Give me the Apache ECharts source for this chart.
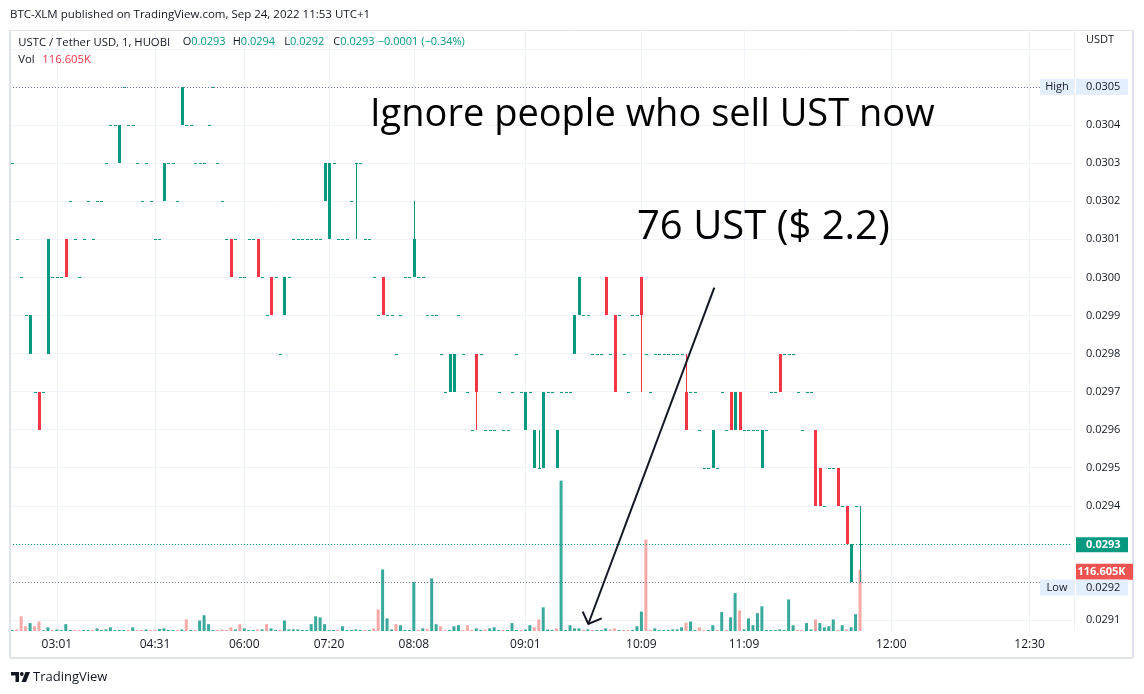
<!DOCTYPE html>
<html><head><meta charset="utf-8">
<script src="https://cdn.jsdelivr.net/npm/echarts@6/dist/echarts.min.js"></script>
<style>html,body{margin:0;padding:0;background:#fff}#c{width:1144px;height:694px}</style>
</head><body><div id="c"></div>
<script>
// ---- data ----
// each candle: flat price, [open, close] or [open, close, low, high]
const candles = [
0.0303,0.0301,0.0300,0.0299,[0.0298,0.0299],0.0297,[0.0297,0.0296],0.0297,[0.0298,0.0301],0.0300,
0.0300,0.0300,[0.0301,0.0300],0.0302,0.0301,0.0300,0.0301,0.0302,0.0301,0.0302,
0.0302,0.0303,0.0304,0.0304,[0.0303,0.0304],0.0305,0.0304,0.0304,0.0303,0.0302,
0.0303,0.0302,0.0301,0.0301,[0.0302,0.0303],0.0303,0.0303,0.0302,[0.0304,0.0305],0.0304,
0.0304,0.0303,0.0303,0.0303,0.0304,0.0305,0.0303,0.0302,0.0301,[0.0301,0.0300],
0.0301,0.0300,0.0300,0.0301,0.0301,[0.0301,0.0300],0.0300,0.0299,[0.0300,0.0299],0.0300,
0.0298,[0.0299,0.0300],0.0300,0.0301,0.0301,0.0301,0.0301,0.0301,0.0301,0.0301,
[0.0302,0.0303],[0.0301,0.0303],0.0303,0.0301,0.0301,0.0301,0.0302,[0.0303,0.0303,0.0301,0.0303],0.0303,0.0301,
0.0301,0.0300,0.0299,[0.0300,0.0299],0.0299,0.0299,0.0298,0.0299,0.0300,0.0300,
[0.0300,0.0301,0.0300,0.0302],0.0300,0.0300,0.0299,0.0299,0.0299,0.0298,0.0297,[0.0297,0.0298],[0.0297,0.0298],
0.0299,0.0298,0.0297,0.0296,[0.0298,0.0297,0.0296,0.0298],0.0298,0.0296,0.0296,0.0296,0.0297,
0.0296,0.0296,0.0297,0.0298,0.0297,[0.0296,0.0297],0.0297,[0.0295,0.0296],[0.0295,0.0295,0.0295,0.0296],[0.0295,0.0297],
0.0297,0.0297,[0.0295,0.0296],0.0297,0.0297,0.0297,[0.0298,0.0299],[0.0299,0.0300],0.0299,0.0299,
0.0298,0.0298,0.0298,[0.0300,0.0299],0.0298,[0.0299,0.0297],0.0299,0.0298,0.0297,0.0299,
0.0299,[0.0300,0.0299,0.0297,0.0300],0.0298,0.0297,0.0298,0.0298,0.0298,0.0298,0.0298,0.0298,
0.0298,[0.0297,0.0296,0.0296,0.0298],0.0297,0.0297,0.0296,0.0295,0.0295,[0.0295,0.0296],0.0295,0.0297,
0.0296,[0.0297,0.0296],[0.0296,0.0297],[0.0297,0.0296],0.0296,0.0296,0.0296,0.0296,[0.0295,0.0296],0.0296,
0.0297,0.0297,[0.0298,0.0297],0.0298,0.0298,0.0298,0.0297,0.0296,0.0297,0.0297,
[0.0296,0.0294],[0.0295,0.0294],0.0294,0.0295,0.0295,[0.0295,0.0294],0.0294,[0.0294,0.0293],[0.0292,0.0293],0.0294,
[0.0293,0.0293,0.0292,0.0294]
];
// volume in thousands
const volumes = [
2,3,28,9,15,9,18,1.3,7,2,
3,2,13,2,2,2,2,2,2,5,
2,3,7,2,2,2,2,7,2,2,
3,2,2,4,5,2,2,2,3,22,
2,2,20,30,13,2,2,3,2,7,
3,13,5,2,2,3,3,13,5,2,
2,20,3,3,3,2,2,13,28,26,
13,2,2,2,9,2,2,3,2,2,
2,5,41,117,24,3,13,11,2,2,
93,2,5,4,100,13,9,2,2,9,
11,2,11,2,5,2,3,5,7,2,
2,2,15,2,2,3,11,7,22,45,
3,2,5,286,2,11,5,5,2,3,
2,2,2,5,3,5,2,2,2,2,
9,37,174,2,5,2,2,2,3,3,
7,16,18,2,7,2,2,11,2,36,
2,26,72,39,3,24,11,34,47,2,
2,2,3,2,60,11,2,2,15,3,
22,15,7,9,22,2,11,3,7,32,
116.605
];
const tickIndex = [10, 32, 52, 71, 90, 115, 141, 164, 197, 228];
const tickText  = ['03:01','04:31','06:00','07:20','08:08','09:01','10:09','11:09','12:00','12:30'];
const slotCount = 238;   // candles + empty future slots
const priceMin = 0.0291, priceMax = 0.0306, priceStep = 0.0001;
const volMax = 1143;

// ---- build ----
const F = "'Open Sans', 'Noto Sans', sans-serif";
const UP = '#089981', DOWN = '#f23645', VUP = '#3aa99c', VDOWN = '#f7a9a7', INK = '#131722';
const ohlc = candles.map(c => typeof c === 'number' ? [c, c, c, c]
  : c.length === 2 ? [c[0], c[1], Math.min(c[0], c[1]), Math.max(c[0], c[1])] : c);
const closes = ohlc.map(d => d[1]);
const categories = Array.from({length: slotCount}, (_, i) => 'b' + i);
const labelAt = {};
tickIndex.forEach((k, j) => { labelAt[k] = tickText[j]; });
const candleData = ohlc.map((d, i) => [i, d[0], d[1], d[2], d[3]]);
const volData = volumes.map((v, i) => ({value: v, itemStyle: {color: (i === 0 || closes[i] >= closes[i - 1]) ? VUP : VDOWN}}));
const high = Math.max(...ohlc.map(d => d[3]));
const low = Math.min(...ohlc.map(d => d[2]));
const lastBar = ohlc[ohlc.length - 1];
const last = closes[closes.length - 1];
const lastVol = volumes[volumes.length - 1];
const hideLabels = [Math.round(high * 1e4), Math.round(last * 1e4), Math.round(low * 1e4), Math.round(priceMax * 1e4)];

const L = 10, R = 72;
const band = (1144 - L - R) / slotCount;
const isTick = (i) => labelAt[i] !== undefined;

function renderCandle(params, api) {
  const i = api.value(0), o = api.value(1), c = api.value(2), l = api.value(3), h = api.value(4);
  const pO = api.coord([i, o]), pC = api.coord([i, c]), pL = api.coord([i, l]), pH = api.coord([i, h]);
  const col = c < o ? DOWN : UP;
  const x0 = Math.round(pO[0]) - 1;
  const yt = Math.round(Math.min(pO[1], pC[1]));
  const yb = Math.round(Math.max(pO[1], pC[1]));
  const children = [];
  const wt = Math.round(pH[1]), wb = Math.round(pL[1]);
  if (wb - wt > 0) children.push({type: 'rect', shape: {x: x0 + 1, y: wt, width: 1, height: wb - wt}, style: {fill: col}});
  children.push({type: 'rect', shape: {x: x0, y: yt, width: 3, height: Math.max(yb - yt, 1)}, style: {fill: col}});
  return {type: 'group', children: children};
}

const chart = echarts.init(document.getElementById('c'), null, {renderer: 'canvas'});
chart.setOption({
  animation: false,
  backgroundColor: '#ffffff',
  grid: [
    {left: L, right: R, top: 49, bottom: 74, outerBoundsMode: 'none'},
    {left: L, right: R, top: 30, bottom: 63, outerBoundsMode: 'none'},
    {left: L + band / 2, right: R - band / 2, top: 30, bottom: 63, outerBoundsMode: 'none'}
  ],
  xAxis: [
    {type: 'category', gridIndex: 0, data: categories, boundaryGap: true,
     axisLine: {show: false}, axisTick: {show: false}, axisLabel: {show: false}, splitLine: {show: false}},
    {type: 'category', gridIndex: 1, data: categories, boundaryGap: true,
     axisLine: {show: false}, axisTick: {show: false}, splitLine: {show: false},
     axisLabel: {show: true, interval: (i) => isTick(i), formatter: (v, i) => labelAt[i] || '',
                 color: INK, fontSize: 12, fontFamily: F, margin: 8}},
    {type: 'category', gridIndex: 2, data: categories, boundaryGap: true,
     axisLine: {show: false}, axisTick: {show: false}, axisLabel: {show: false},
     splitLine: {show: true, interval: (i) => isTick(i), lineStyle: {color: '#f0f3fa', width: 1}}}
  ],
  yAxis: [
    {type: 'value', gridIndex: 0, position: 'right', min: priceMin, max: priceMax, interval: priceStep,
     axisLine: {show: false}, axisTick: {show: false},
     splitLine: {show: true, lineStyle: {color: '#f0f3fa', width: 1}},
     axisLabel: {color: INK, fontSize: 11, fontFamily: F, margin: 14, align: 'left',
                 formatter: (v) => hideLabels.indexOf(Math.round(v * 1e4)) >= 0 ? '' : v.toFixed(4)}},
    {type: 'value', gridIndex: 1, min: 0, max: volMax, show: false, splitLine: {show: false}},
    {type: 'value', gridIndex: 2, min: 0, max: 1, show: false, splitLine: {show: false}}
  ],
  series: [
    {type: 'bar', name: 'Vol', xAxisIndex: 1, yAxisIndex: 1, data: volData, barWidth: 3,
     z: 2, silent: true},
    {type: 'custom', name: 'USTC', xAxisIndex: 0, yAxisIndex: 0, data: candleData,
     encode: {x: 0, y: [1, 2, 3, 4]}, renderItem: renderCandle, z: 3, silent: true, clip: false}
  ]
});

const yH = chart.convertToPixel({yAxisIndex: 0}, high);
const yLo = chart.convertToPixel({yAxisIndex: 0}, low);
const yC = chart.convertToPixel({yAxisIndex: 0}, last);
const yV = chart.convertToPixel({yAxisIndex: 1}, lastVol);
const xPlotR = 1144 - R;

function txt(x, y, text, o) {
  return {type: 'text', silent: true, z: 100,
    style: Object.assign({x: x, y: y, text: text, fill: INK, fontFamily: F, fontSize: 12,
      align: 'left', verticalAlign: 'middle'}, o || {})};
}
function box(x, y, w, h, fill, z) {
  return {type: 'rect', silent: true, z: z || 99, shape: {x: x, y: y, width: w, height: h}, style: {fill: fill}};
}
function line(pts, stroke, w, z, dash) {
  return {type: 'polyline', silent: true, z: z || 98, shape: {points: pts},
    style: {stroke: stroke, lineWidth: w, fill: null, lineDash: dash || null}};
}
function hl(y) { return Math.round(y) + 0.5; }
const LB = '#e3effd';
const rich = (k, v) => ({text: '{k|' + k + '}{v|' + v + '}', rich: {
  k: {fill: INK, fontSize: 11, fontFamily: F}, v: {fill: UP, fontSize: 11, fontFamily: F}}});
const els = [
  // frame
  line([[L, 30.5], [1133, 30.5]], '#e0e3eb', 1),
  line([[L, 30], [L, 658]], '#e0e3eb', 2),
  line([[L, 658], [1133, 658]], '#e0e3eb', 2),
  line([[1133, 30], [1133, 658]], '#e0e3eb', 2),
  // high / low / last price lines
  line([[L, hl(yH)], [xPlotR, hl(yH)]], '#787b86', 1, 50, [1, 2]),
  line([[L, hl(yLo)], [xPlotR, hl(yLo)]], '#787b86', 1, 50, [1, 2]),
  line([[L, hl(yC)], [xPlotR, hl(yC)]], UP, 1, 50, [1, 2]),
  // header
  txt(10, 15, 'BTC-XLM published on TradingView.com, Sep 24, 2022 11:53 UTC+1', {fontSize: 11.5}),
  txt(18.3, 42.3, 'USTC / Tether USD, 1, HUOBI', {fontSize: 11.3}),
  txt(182.7, 42.3, '', Object.assign({fontSize: 11}, rich('O', lastBar[0].toFixed(4)))),
  txt(232.7, 42.3, '', Object.assign({fontSize: 11}, rich('H', lastBar[3].toFixed(4)))),
  txt(284.3, 42.3, '', Object.assign({fontSize: 11}, rich('L', lastBar[2].toFixed(4)))),
  txt(333.3, 42.3, '', Object.assign({fontSize: 11}, rich('C', last.toFixed(4)))),
  txt(377.7, 42.3, '\u22120.0001 (\u22120.34%)', {fontSize: 11, fill: UP}),
  txt(18.3, 59.5, 'Vol', {fontSize: 11.3}),
  txt(42.3, 59.5, lastVol.toFixed(3) + 'K', {fontSize: 11.3, fill: '#f23645'}),
  txt(1086, 40, 'USDT', {fontSize: 11}),
  // price scale boxes
  box(1040, yH - 8, 34, 16, LB), txt(1057, yH, 'High', {fontSize: 11, align: 'center'}),
  box(1076, yH - 8, 52, 16, LB), txt(1086, yH, high.toFixed(4), {fontSize: 11}),
  box(1076, yC - 6.5, 52, 15, UP), txt(1086, yC + 1, last.toFixed(4), {fontSize: 11, fill: '#fff', fontWeight: 'bold'}),
  box(1076, yV - 6, 57, 16, '#ef5350'), txt(1077.5, yV + 2, lastVol.toFixed(3) + 'K', {fontSize: 11, fill: '#fff', fontWeight: 'bold'}),
  box(1040, yLo - 2.5, 34, 16, LB), txt(1057, yLo + 5.5, 'Low', {fontSize: 11, align: 'center'}),
  box(1076, yLo - 2.5, 52, 16, LB), txt(1086, yLo + 5.5, low.toFixed(4), {fontSize: 11}),
  // annotations
  txt(370, 115.5, 'Ignore people who sell UST now', {fontSize: 38, fill: '#000'}),
  txt(637, 227.4, '76 UST ($ 2.2)', {fontSize: 40, fill: '#000'}),
  line([[714.3, 287.7], [588.3, 624]], INK, 2, 101),
  line([[582.7, 611.7], [588.3, 624], [601.7, 618.3]], INK, 2, 101),
  // TradingView logo
  {type: 'polygon', silent: true, z: 100, shape: {points: [[11, 672], [19, 672], [19, 682], [15.5, 682], [15.5, 675.5], [11, 675.5]]}, style: {fill: INK}},
  {type: 'circle', silent: true, z: 100, shape: {cx: 21.8, cy: 674, r: 1.9}, style: {fill: INK}},
  {type: 'polygon', silent: true, z: 100, shape: {points: [[25.5, 672], [30, 672], [26, 682], [21.5, 682]]}, style: {fill: INK}},
  txt(33, 677, 'TradingView', {fontSize: 13})
];
chart.setOption({graphic: {elements: els}});
</script>
</body></html>
